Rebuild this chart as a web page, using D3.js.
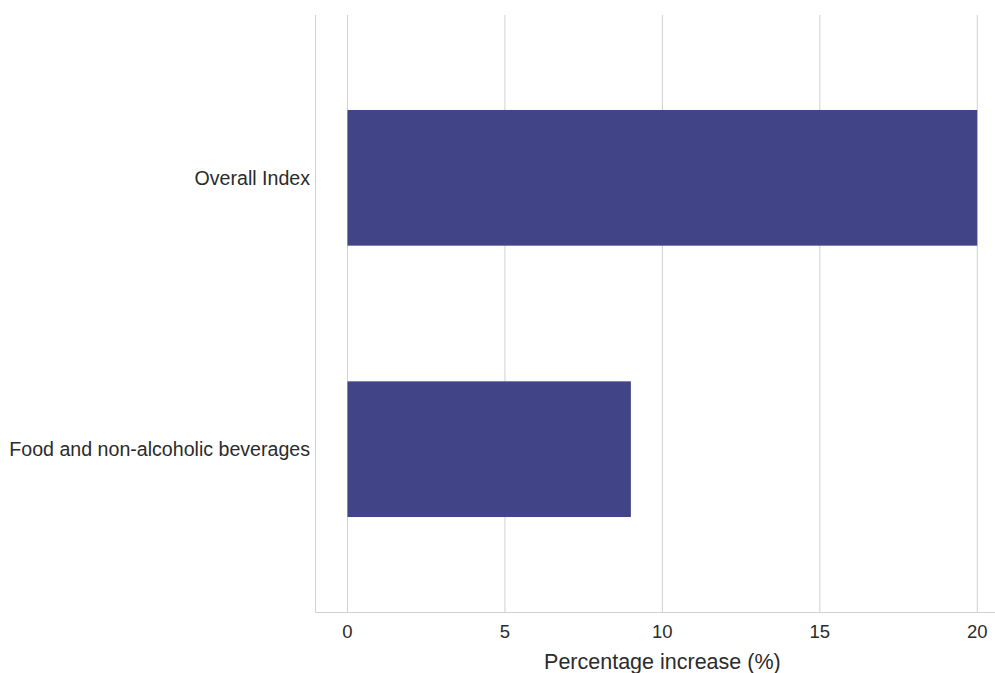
<!DOCTYPE html>
<html>
<head>
<meta charset="utf-8">
<script src="https://cdn.jsdelivr.net/npm/d3@7"></script>
<style>
  body { margin: 0; background: #fff; }
  text { font-family: "Liberation Sans", Arial, sans-serif; fill: #2b2b2b; }
</style>
</head>
<body>
<svg id="chart" width="995" height="673"></svg>
<script>
var categories = ['Overall Index', 'Food and non-alcoholic beverages'];
var values = [20, 9];
var xTicks = [0, 5, 10, 15, 20];

var svg = d3.select('#chart'),
    margin = { top: 15, right: 2, bottom: 61, left: 316 },
    width = 995 - margin.left - margin.right,
    height = 673 - margin.top - margin.bottom;

var g = svg.append('g').attr('transform', 'translate(' + margin.left + ',' + margin.top + ')');

// x domain padded so 0 sits a little right of the axis line
var x = d3.scaleLinear().domain([-1, 20.5]).range([0, width]);
var y = d3.scaleBand().domain(categories).range([0, height]).paddingInner(0.5).paddingOuter(0.35);

// gridlines
g.selectAll('.grid').data(xTicks).enter().append('line')
  .attr('x1', function (d) { return x(d); })
  .attr('x2', function (d) { return x(d); })
  .attr('y1', 0).attr('y2', height)
  .attr('stroke', '#d0d0d0').attr('stroke-width', 1);

// bars
g.selectAll('.bar').data(values).enter().append('rect')
  .attr('x', x(0))
  .attr('y', function (d, i) { return y(categories[i]); })
  .attr('width', function (d) { return x(d) - x(0); })
  .attr('height', y.bandwidth())
  .attr('fill', '#414487');

// axis lines
g.append('line').attr('x1', -0.5).attr('x2', -0.5).attr('y1', 0).attr('y2', height)
  .attr('stroke', '#d0d0d0');
g.append('line').attr('x1', -0.5).attr('x2', width + 2).attr('y1', height + 0.5).attr('y2', height + 0.5)
  .attr('stroke', '#d0d0d0');

// x tick labels
g.selectAll('.xt').data(xTicks).enter().append('text')
  .attr('x', function (d) { return x(d); })
  .attr('y', height + 26)
  .attr('text-anchor', 'middle')
  .style('font-size', '18.5px')
  .text(function (d) { return d; });

// y labels
g.selectAll('.yt').data(categories).enter().append('text')
  .attr('x', -6)
  .attr('y', function (d) { return y(d) + y.bandwidth() / 2; })
  .attr('dy', '0.35em')
  .attr('text-anchor', 'end')
  .style('font-size', '19.6px')
  .text(function (d) { return d; });

// axis title
g.append('text')
  .attr('x', x(10))
  .attr('y', height + 57)
  .attr('text-anchor', 'middle')
  .style('font-size', '21.5px')
  .text('Percentage increase (%)');
</script>
</body>
</html>
